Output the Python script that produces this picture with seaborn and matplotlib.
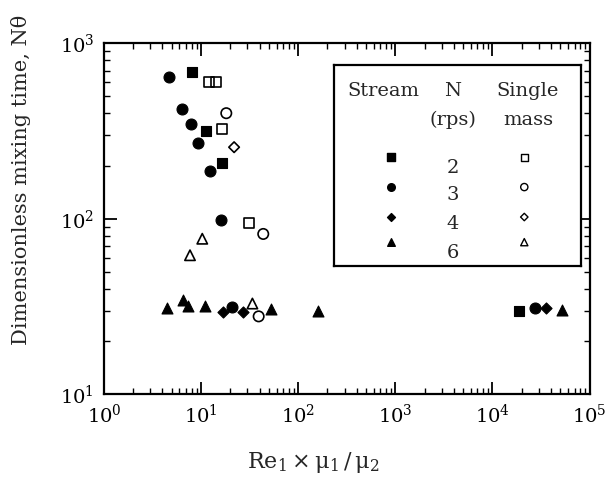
import numpy as np
import pandas as pd
import matplotlib
matplotlib.use("Agg")
import matplotlib.pyplot as plt
import seaborn as sns
from matplotlib.ticker import LogLocator, FuncFormatter, NullFormatter

# ---------------- data ----------------
rps_levels = [2, 3, 4, 6]
marker_for_rps = {2: "s", 3: "o", 4: "D", 6: "^"}

# Stream (filled markers)
stream_2_x = [8.0, 11.3, 16.3, 1.88e4]
stream_2_y = [690, 316, 209, 29.8]
stream_3_x = [4.7, 6.3, 7.9, 9.2, 12.4, 16.2, 20.7, 2.73e4]
stream_3_y = [646, 422, 347, 272, 187, 99, 31.6, 30.9]
stream_4_x = [16.8, 26.9, 3.53e4]
stream_4_y = [29.5, 29.4, 31.0]
stream_6_x = [4.5, 6.5, 7.4, 11.0, 52.9, 159, 5.15e4]
stream_6_y = [30.9, 34.6, 31.7, 32.0, 30.7, 29.9, 30.1]

# Single mass (open markers)
single_2_x = [12.0, 14.4, 16.4, 31.3]
single_2_y = [603, 605, 327, 95]
single_3_x = [18.2, 43.7, 39.2]
single_3_y = [400, 82, 27.8]
single_4_x = [21.9]
single_4_y = [256]
single_6_x = [7.7, 10.3, 33.8]
single_6_y = [62, 77, 32.9]

x_tick_exps = [0, 1, 2, 3, 4, 5]
y_tick_exps = [1, 2, 3]

xlabel = r"$\mathrm{Re}_1 \times \mathrm{\mu}_1\,/\,\mathrm{\mu}_2$"
ylabel = "Dimensionless mixing time, N\u03b8"

# ---------------- build table ----------------
frames = []
for method, groups in [
    ("Stream", {2: (stream_2_x, stream_2_y), 3: (stream_3_x, stream_3_y),
                4: (stream_4_x, stream_4_y), 6: (stream_6_x, stream_6_y)}),
    ("Single mass", {2: (single_2_x, single_2_y), 3: (single_3_x, single_3_y),
                     4: (single_4_x, single_4_y), 6: (single_6_x, single_6_y)}),
]:
    for n, (xs, ys) in groups.items():
        frames.append(pd.DataFrame({"x": xs, "y": ys, "N": n, "method": method}))
df = pd.concat(frames, ignore_index=True)

# ---------------- style ----------------
sns.set_style("ticks")
plt.rcParams["font.family"] = ["DejaVu Serif"]
plt.rcParams["mathtext.fontset"] = "dejavuserif"
plt.rcParams["axes.linewidth"] = 1.6

fig = plt.figure(figsize=(6.11, 4.82), dpi=100)
ax = fig.add_axes([0.170, 0.182, 0.795, 0.728])

msize = {2: 58, 3: 62, 4: 32, 6: 62}
for n in rps_levels:
    sub = df[(df.method == "Stream") & (df.N == n)]
    sns.scatterplot(data=sub, x="x", y="y", marker=marker_for_rps[n], s=msize[n],
                    color="black", edgecolor="black", linewidth=0.8, ax=ax, legend=False)
    sub = df[(df.method == "Single mass") & (df.N == n)]
    sns.scatterplot(data=sub, x="x", y="y", marker=marker_for_rps[n], s=msize[n] * 0.9,
                    facecolor="none", edgecolor="black", linewidth=1.2, ax=ax, legend=False)

ax.set_xscale("log")
ax.set_yscale("log")
ax.set_xlim(1, 1e5)
ax.set_ylim(10, 1000)
ax.xaxis.set_minor_locator(LogLocator(base=10, subs=np.arange(2, 10), numticks=20))
ax.yaxis.set_minor_locator(LogLocator(base=10, subs=np.arange(2, 10), numticks=20))
fmt = FuncFormatter(lambda v, p: r"$10^{%d}$" % int(round(np.log10(v))))
ax.set_xticks([10.0 ** e for e in x_tick_exps])
ax.set_yticks([10.0 ** e for e in y_tick_exps])
ax.xaxis.set_major_formatter(fmt)
ax.yaxis.set_major_formatter(fmt)
ax.xaxis.set_minor_formatter(NullFormatter())
ax.yaxis.set_minor_formatter(NullFormatter())
ax.tick_params(which="both", direction="in", top=True, right=True, labelsize=14,
               color="black", labelcolor="black")
ax.tick_params(which="major", length=9, width=1.3, pad=7)
ax.tick_params(which="minor", length=4.5, width=1.0)

ax.set_xlabel(xlabel, fontsize=16)
ax.set_ylabel(ylabel, fontsize=15)
ax.xaxis.set_label_coords(0.43, -0.16)
ax.yaxis.set_label_coords(-0.15, 0.61)
for sp in ax.spines.values():
    sp.set_color("black")
    sp.set_linewidth(1.6)

# ---------------- legend box ----------------
lg = fig.add_axes([0.547, 0.448, 0.404, 0.417])
lg.set_xlim(0, 1)
lg.set_ylim(0, 1)
lg.set_xticks([])
lg.set_yticks([])
for sp in lg.spines.values():
    sp.set_color("black")
    sp.set_linewidth(1.6)
lg.text(0.20, 0.87, "Stream", ha="center", va="center", fontsize=14)
lg.text(0.48, 0.87, "N", ha="center", va="center", fontsize=14)
lg.text(0.48, 0.725, "(rps)", ha="center", va="center", fontsize=14)
lg.text(0.785, 0.87, "Single", ha="center", va="center", fontsize=14)
lg.text(0.785, 0.725, "mass", ha="center", va="center", fontsize=14)
row_marker_y = [0.542, 0.393, 0.244, 0.119]
row_text_y = [0.49, 0.355, 0.21, 0.065]
leg_size = {2: 28, 3: 30, 4: 16, 6: 30}
for n, my, ty in zip(rps_levels, row_marker_y, row_text_y):
    lg.scatter([0.231], [my], marker=marker_for_rps[n], s=leg_size[n], color="black")
    lg.text(0.48, ty, str(n), ha="center", va="center", fontsize=14)
    lg.scatter([0.77], [my], marker=marker_for_rps[n], s=leg_size[n] * 0.9,
               facecolor="none", edgecolor="black", linewidth=1.0)

fig.savefig("out.png", dpi=100, facecolor="white")
